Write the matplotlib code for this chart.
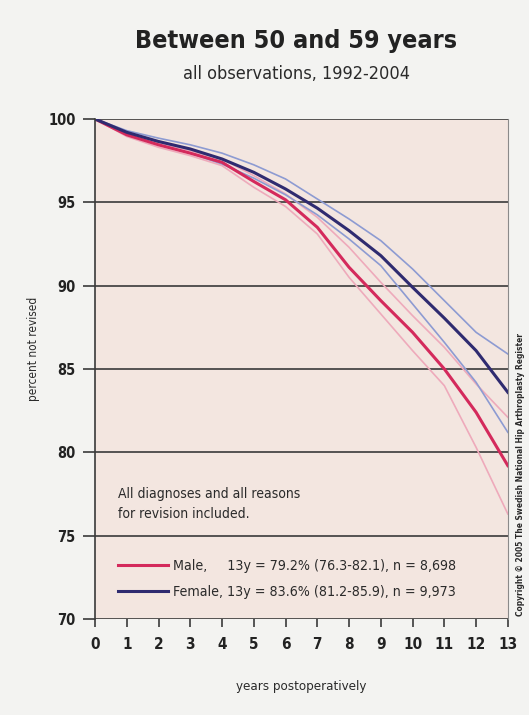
import numpy as np
import matplotlib.pyplot as plt

plt.rcParams['font.family'] = ['DejaVu Sans']
plt.rcParams['font.stretch'] = 'condensed'

# Kaplan-Meier style survival
years = list(range(14))
male = [100, 99.05, 98.45, 97.95, 97.4, 96.25, 95.15, 93.5, 91.1, 89.1, 87.2, 85.0, 82.4, 79.2]
male_lo = [100, 98.95, 98.3, 97.8, 97.2, 95.9, 94.75, 93.1, 90.5, 88.3, 86.1, 84.0, 80.3, 76.3]
male_hi = [100, 99.15, 98.6, 98.1, 97.6, 96.6, 95.5, 94.1, 92.3, 90.2, 88.2, 86.3, 84.1, 82.1]
female = [100, 99.2, 98.65, 98.2, 97.6, 96.8, 95.8, 94.65, 93.3, 91.8, 89.9, 88.05, 86.1, 83.6]
female_lo = [100, 99.05, 98.45, 97.95, 97.3, 96.45, 95.45, 94.25, 92.8, 91.2, 88.9, 86.6, 84.2, 81.2]
female_hi = [100, 99.3, 98.85, 98.45, 97.95, 97.25, 96.4, 95.2, 94.0, 92.7, 91.0, 89.1, 87.2, 85.9]

y_ticks = [70, 75, 80, 85, 90, 95, 100]
legend_labels = ['Male,     13y = 79.2% (76.3-82.1), n = 8,698',
                 'Female, 13y = 83.6% (81.2-85.9), n = 9,973']

male_col = '#d42a5c'
male_ci = '#eeaabb'
female_col = '#2f2b70'
female_ci = '#8d9bd2'

fig = plt.figure(figsize=(5.29, 7.15), dpi=100, facecolor='#f3f3f1')
ax = fig.add_axes([0.1796, 0.1343, 0.7804, 0.6993])
ax.set_facecolor('#f3e6e0')

ax.plot(years, male_lo, color=male_ci, lw=1.2)
ax.plot(years, male_hi, color=male_ci, lw=1.2)
ax.plot(years, female_lo, color=female_ci, lw=1.2)
ax.plot(years, female_hi, color=female_ci, lw=1.2)
l1, = ax.plot(years, male, color=male_col, lw=2.2)
l2, = ax.plot(years, female, color=female_col, lw=2.2)

ax.set_xlim(0, 13)
ax.set_ylim(70, 100)
ax.set_xticks(years)
ax.set_yticks(y_ticks)
for v in y_ticks:
    ax.axhline(v, color='#3a3a3a', lw=1.2, zorder=0.5)
ax.tick_params(axis='y', length=9, width=1.2, color='#3a3a3a', labelsize=10.5, pad=5)
ax.tick_params(axis='x', length=6, width=1.2, color='#3a3a3a', labelsize=11, pad=7)
for lab in ax.get_xticklabels() + ax.get_yticklabels():
    lab.set_fontweight('bold')
    lab.set_color('#222222')

for s in ['top', 'bottom']:
    ax.spines[s].set_visible(False)
ax.spines['left'].set_color('#3a3a3a')
ax.spines['left'].set_linewidth(1.2)
ax.spines['right'].set_color('#8a8a8a')
ax.spines['right'].set_linewidth(0.8)

ax.set_xlabel('years postoperatively', fontsize=9.5, color='#2a2a2a', labelpad=20)
ax.set_ylabel('percent not revised', fontsize=8.5, color='#2a2a2a')
ax.yaxis.set_label_coords(-0.133, 0.54)

fig.text(0.56, 0.942, 'Between 50 and 59 years', ha='center', va='center',
         fontsize=18, fontweight='bold', color='#222222')
fig.text(0.56, 0.897, 'all observations, 1992-2004', ha='center', va='center',
         fontsize=13, color='#2a2a2a')

ax.text(0.72, 76.9, 'All diagnoses and all reasons\nfor revision included.',
        fontsize=10, color='#2a2a2a', va='center', linespacing=1.6)

leg = ax.legend([l1, l2], legend_labels, loc='center left', bbox_to_anchor=(0.0557, 0.08),
                frameon=False, fontsize=10.2, handlelength=3.5, handletextpad=0.35,
                labelspacing=0.9, borderpad=0, borderaxespad=0)
for t in leg.get_texts():
    t.set_color('#2a2a2a')

fig.text(0.983, 0.336, 'Copyright \u00a9 2005 The Swedish National Hip Arthroplasty Register',
         rotation=90, ha='center', va='center', fontsize=6, fontweight='bold',
         color='#2a2a2a')

fig.savefig('out.png', dpi=100, facecolor=fig.get_facecolor())
